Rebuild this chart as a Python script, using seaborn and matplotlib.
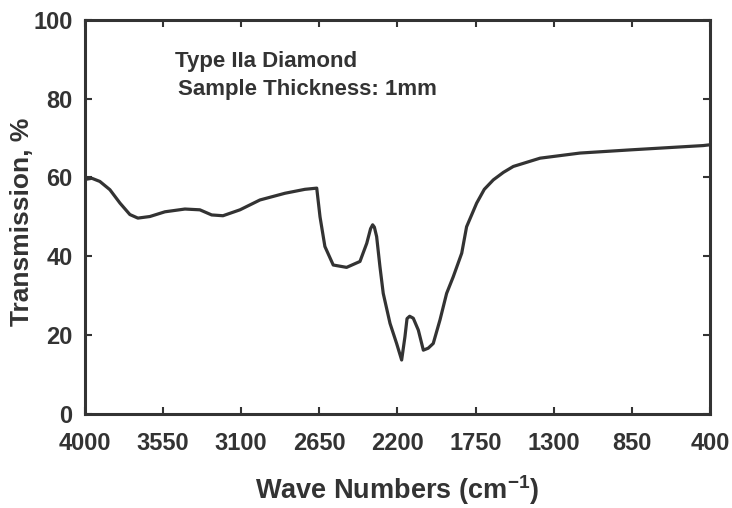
import numpy as np
import pandas as pd
import matplotlib
matplotlib.use("Agg")
import matplotlib.pyplot as plt
import seaborn as sns

# IR transmission spectrum
wavenumber = [4000, 3960, 3914, 3856, 3798, 3741, 3695, 3626, 3539, 3424,
              3338, 3270, 3205, 3107, 2992, 2848, 2733, 2665, 2646, 2618,
              2570, 2493, 2416, 2377, 2355, 2343, 2333, 2320, 2301, 2282,
              2243, 2205, 2176, 2157, 2145, 2130, 2109, 2080, 2051, 2023,
              1994, 1955, 1917, 1879, 1830, 1802, 1744, 1700, 1648, 1590,
              1533, 1379, 1149, 861, 439, 400]
transmission = [59.5, 59.8, 59.0, 56.9, 53.5, 50.6, 49.7, 50.1, 51.3, 52.0,
                51.8, 50.5, 50.3, 51.8, 54.3, 56.0, 57.0, 57.3, 50.0, 42.5,
                37.8, 37.2, 38.7, 43.3, 47.0, 48.0, 47.4, 45.0, 37.4, 30.6,
                23.0, 17.9, 13.7, 19.6, 24.2, 24.8, 24.3, 21.3, 16.2, 16.7,
                17.9, 23.9, 30.6, 34.8, 40.8, 47.5, 53.5, 57.0, 59.4, 61.3,
                62.8, 64.9, 66.2, 67.0, 68.1, 68.3]

x_ticks = [4000, 3550, 3100, 2650, 2200, 1750, 1300, 850, 400]
y_ticks = [0, 20, 40, 60, 80, 100]

sns.set_theme(style="ticks")
plt.rcParams['font.family'] = ['Liberation Sans', 'DejaVu Sans']
plt.rcParams['mathtext.default'] = 'regular'
ink = '#333333'

df = pd.DataFrame({'wn': wavenumber, 'T': transmission})

fig = plt.figure(figsize=(7.32, 5.08), dpi=100)
ax = fig.add_axes([0.116, 0.185, 0.854, 0.776])
sns.lineplot(data=df, x='wn', y='T', sort=False, color=ink, linewidth=2.3, ax=ax)

ax.set_xlim(4000, 400)
ax.set_ylim(0, 100)
ax.set_xticks(x_ticks)
ax.set_yticks(y_ticks)
ax.tick_params(direction='in', length=5, width=1.5, color=ink,
               top=True, right=True, labelsize=17, labelcolor=ink)
ax.tick_params(axis='x', pad=13)
ax.tick_params(axis='y', pad=9)
for lab in ax.get_xticklabels() + ax.get_yticklabels():
    lab.set_fontweight('bold')
for sp in ax.spines.values():
    sp.set_visible(True)
    sp.set_color(ink)
    sp.set_linewidth(2.2)

ax.set_xlabel('Wave Numbers (cm$^{-1}$)', fontsize=19.5, fontweight='bold', color=ink, labelpad=13)
ax.set_ylabel('Transmission, %', fontsize=19, fontweight='bold', color=ink, va='center')
ax.yaxis.set_label_coords(-0.1, 0.487)

ax.text(0.144, 0.893, 'Type IIa Diamond', transform=ax.transAxes,
        fontsize=16, fontweight='bold', color=ink, va='center')
ax.text(0.149, 0.822, 'Sample Thickness: 1mm', transform=ax.transAxes,
        fontsize=16, fontweight='bold', color=ink, va='center')

fig.savefig('out.png', dpi=100)
